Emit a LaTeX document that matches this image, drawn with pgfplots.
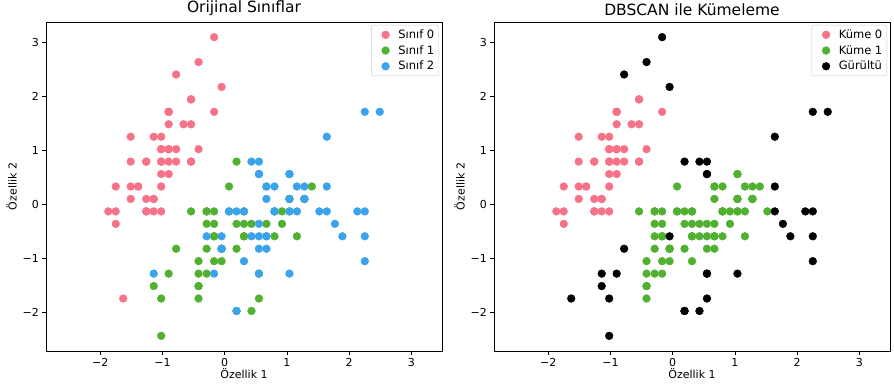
\documentclass[border=0pt]{standalone}
\usepackage{fontspec}
\setmainfont{DejaVu Sans}
\usepackage{pgfplots}
\usepackage{pgfplotstable}
\pgfplotsset{compat=1.18}
\definecolor{cpink}{HTML}{F77189}
\definecolor{cgreen}{HTML}{50B131}
\definecolor{cblue}{HTML}{3BA3EC}

% standardized sepal length (x) and sepal width (y)
\pgfplotstableread{
x y
-0.90 1.02
-1.14 -0.13
-1.39 0.33
-1.51 0.10
-1.02 1.25
-0.54 1.94
-1.51 0.79
-1.02 0.79
-1.75 -0.36
-1.14 0.10
-0.54 1.48
-1.26 0.79
-1.26 -0.13
-1.87 -0.13
-0.54 1.94
-0.90 1.02
-0.17 1.71
-0.90 1.71
-0.54 0.79
-0.90 1.48
-1.51 1.25
-0.90 0.56
-1.26 0.79
-1.02 -0.13
-1.02 0.79
-0.78 1.02
-0.78 0.79
-1.39 0.33
-1.26 0.10
-0.54 0.79
-1.14 0.10
-1.02 0.33
-0.42 1.02
-1.14 1.25
-1.75 -0.13
-0.90 0.79
-1.02 1.02
-1.75 0.33
-1.02 1.02
-0.90 1.71
-1.26 -0.13
-0.90 1.71
-1.51 0.33
-0.66 1.48
-1.02 0.56
}\setosaCore
\pgfplotstableread{
x y
-0.05 2.17
-0.17 3.09
-0.78 2.40
-0.42 2.63
-1.63 -1.74
}\setosaNoise
\pgfplotstableread{
x y
1.40 0.33
0.67 0.33
1.28 0.10
-0.42 -1.74
0.80 -0.59
-0.17 -0.59
0.92 -0.36
0.07 -0.13
0.31 -0.36
-0.29 -0.36
1.04 0.10
-0.29 -0.13
-0.05 -0.82
-0.29 -1.28
0.07 0.33
0.31 -0.59
0.31 -0.59
0.67 -0.36
0.92 -0.13
1.16 -0.59
1.04 -0.13
0.19 -0.36
-0.17 -1.05
-0.42 -1.51
-0.42 -1.51
-0.05 -0.82
0.19 -0.82
-0.54 -0.13
1.04 0.10
-0.29 -0.13
-0.42 -1.28
-0.42 -1.05
0.31 -0.13
-0.05 -1.05
-0.29 -0.82
-0.17 -0.13
-0.17 -0.36
0.43 -0.36
-0.17 -0.59
}\versiCore
\pgfplotstableread{
x y
0.55 0.56
-1.14 -1.51
-0.78 -0.82
-1.02 -2.43
0.19 -1.97
0.43 -1.97
0.55 -1.28
0.19 0.79
0.55 -1.74
-1.02 -1.74
-0.90 -1.28
}\versiNoise
\pgfplotstableread{
x y
-0.05 -0.82
1.52 -0.13
0.55 -0.36
0.80 -0.13
0.80 0.33
0.67 -0.82
1.16 -0.13
-0.17 -1.28
0.67 0.33
0.80 -0.13
1.28 0.33
-0.29 -0.59
0.55 -0.82
1.04 0.56
0.43 -0.59
0.31 -0.13
0.67 -0.59
0.67 -0.59
0.55 -0.59
0.31 -1.05
0.67 0.10
0.19 -0.13
1.28 0.10
1.04 0.10
1.28 0.10
-0.05 -0.82
1.16 0.33
1.04 0.56
1.04 -0.13
0.80 -0.13
0.07 -0.13
}\virgCore
\pgfplotstableread{
x y
0.55 0.56
2.13 -0.13
-1.14 -1.28
1.77 -0.36
1.04 -1.28
1.64 1.25
-0.05 -0.59
2.25 1.71
2.25 -1.05
0.19 -1.97
2.25 -0.59
1.64 0.33
1.64 -0.13
1.89 -0.59
2.49 1.71
2.25 -0.13
0.55 0.79
0.55 -1.28
0.43 0.79
}\virgNoise

\pgfplotsset{
  myax/.style={
    scale only axis, width=396pt, height=329pt,
    xmin=-2.87, xmax=3.49, ymin=-2.71, ymax=3.37,
    xtick={-2,-1,0,1,2,3}, ytick={-2,-1,0,1,2,3},
    xticklabels={−2,−1,0,1,2,3}, yticklabels={−2,−1,0,1,2,3},
    tick align=outside, tick pos=left,
    major tick length=3.6pt,
    every tick/.style={black, line width=0.6pt},
    axis line style={line width=0.6pt},
    tick label style={font=\fontsize{11}{13}\selectfont},
    label style={font=\fontsize{11}{13}\selectfont},
    xlabel style={yshift=5pt},
    ylabel style={yshift=-1pt},
    title style={font=\fontsize{15.5}{17}\selectfont, yshift=-3pt},
    xlabel={Özellik 1}, ylabel={Özellik 2},
    legend style={at={(1,1)}, anchor=north east, xshift=-3pt, yshift=-3pt,
      draw=black!20, rounded corners=2pt, fill=white, fill opacity=0.8, text opacity=1,
      font=\fontsize{11.5}{13}\selectfont, inner sep=3pt, row sep=2.5pt,
      nodes={inner sep=1.5pt}},
    legend image code/.code={%
      \draw[opacity=0, mark=none] (0pt,-4pt) rectangle (22pt,4pt);
      \draw[fill opacity=1, draw opacity=1] plot coordinates {(11pt,0pt)};},
    legend cell align=left,
    only marks,
  },
  pk/.style={mark=*, mark size=3.9pt, color=cpink},
  gr/.style={mark=*, mark size=3.9pt, color=cgreen},
  bl/.style={mark=*, mark size=3.9pt, color=cblue},
  bk/.style={mark=*, mark size=3.9pt, color=black},
}

\begin{document}
\begin{tikzpicture}
\useasboundingbox (-46pt,-32pt) rectangle (848pt,351pt);
\begin{axis}[myax, title={Orijinal Sınıflar}]
\addplot[pk] table {\setosaCore};
\addlegendentry{Sınıf 0}
\addplot[pk, forget plot] table {\setosaNoise};
\addplot[gr] table {\versiCore};
\addlegendentry{Sınıf 1}
\addplot[gr, forget plot] table {\versiNoise};
\addplot[bl] table {\virgCore};
\addlegendentry{Sınıf 2}
\addplot[bl, forget plot] table {\virgNoise};
\end{axis}
\begin{axis}[myax, at={(448pt,0pt)}, title={DBSCAN ile Kümeleme}]
\addplot[pk] table {\setosaCore};
\addlegendentry{Küme 0}
\addplot[gr] table {\versiCore};
\addlegendentry{Küme 1}
\addplot[gr, forget plot] table {\virgCore};
\addplot[bk] table {\setosaNoise};
\addlegendentry{Gürültü}
\addplot[bk, forget plot] table {\versiNoise};
\addplot[bk, forget plot] table {\virgNoise};
\end{axis}
\end{tikzpicture}
\end{document}
